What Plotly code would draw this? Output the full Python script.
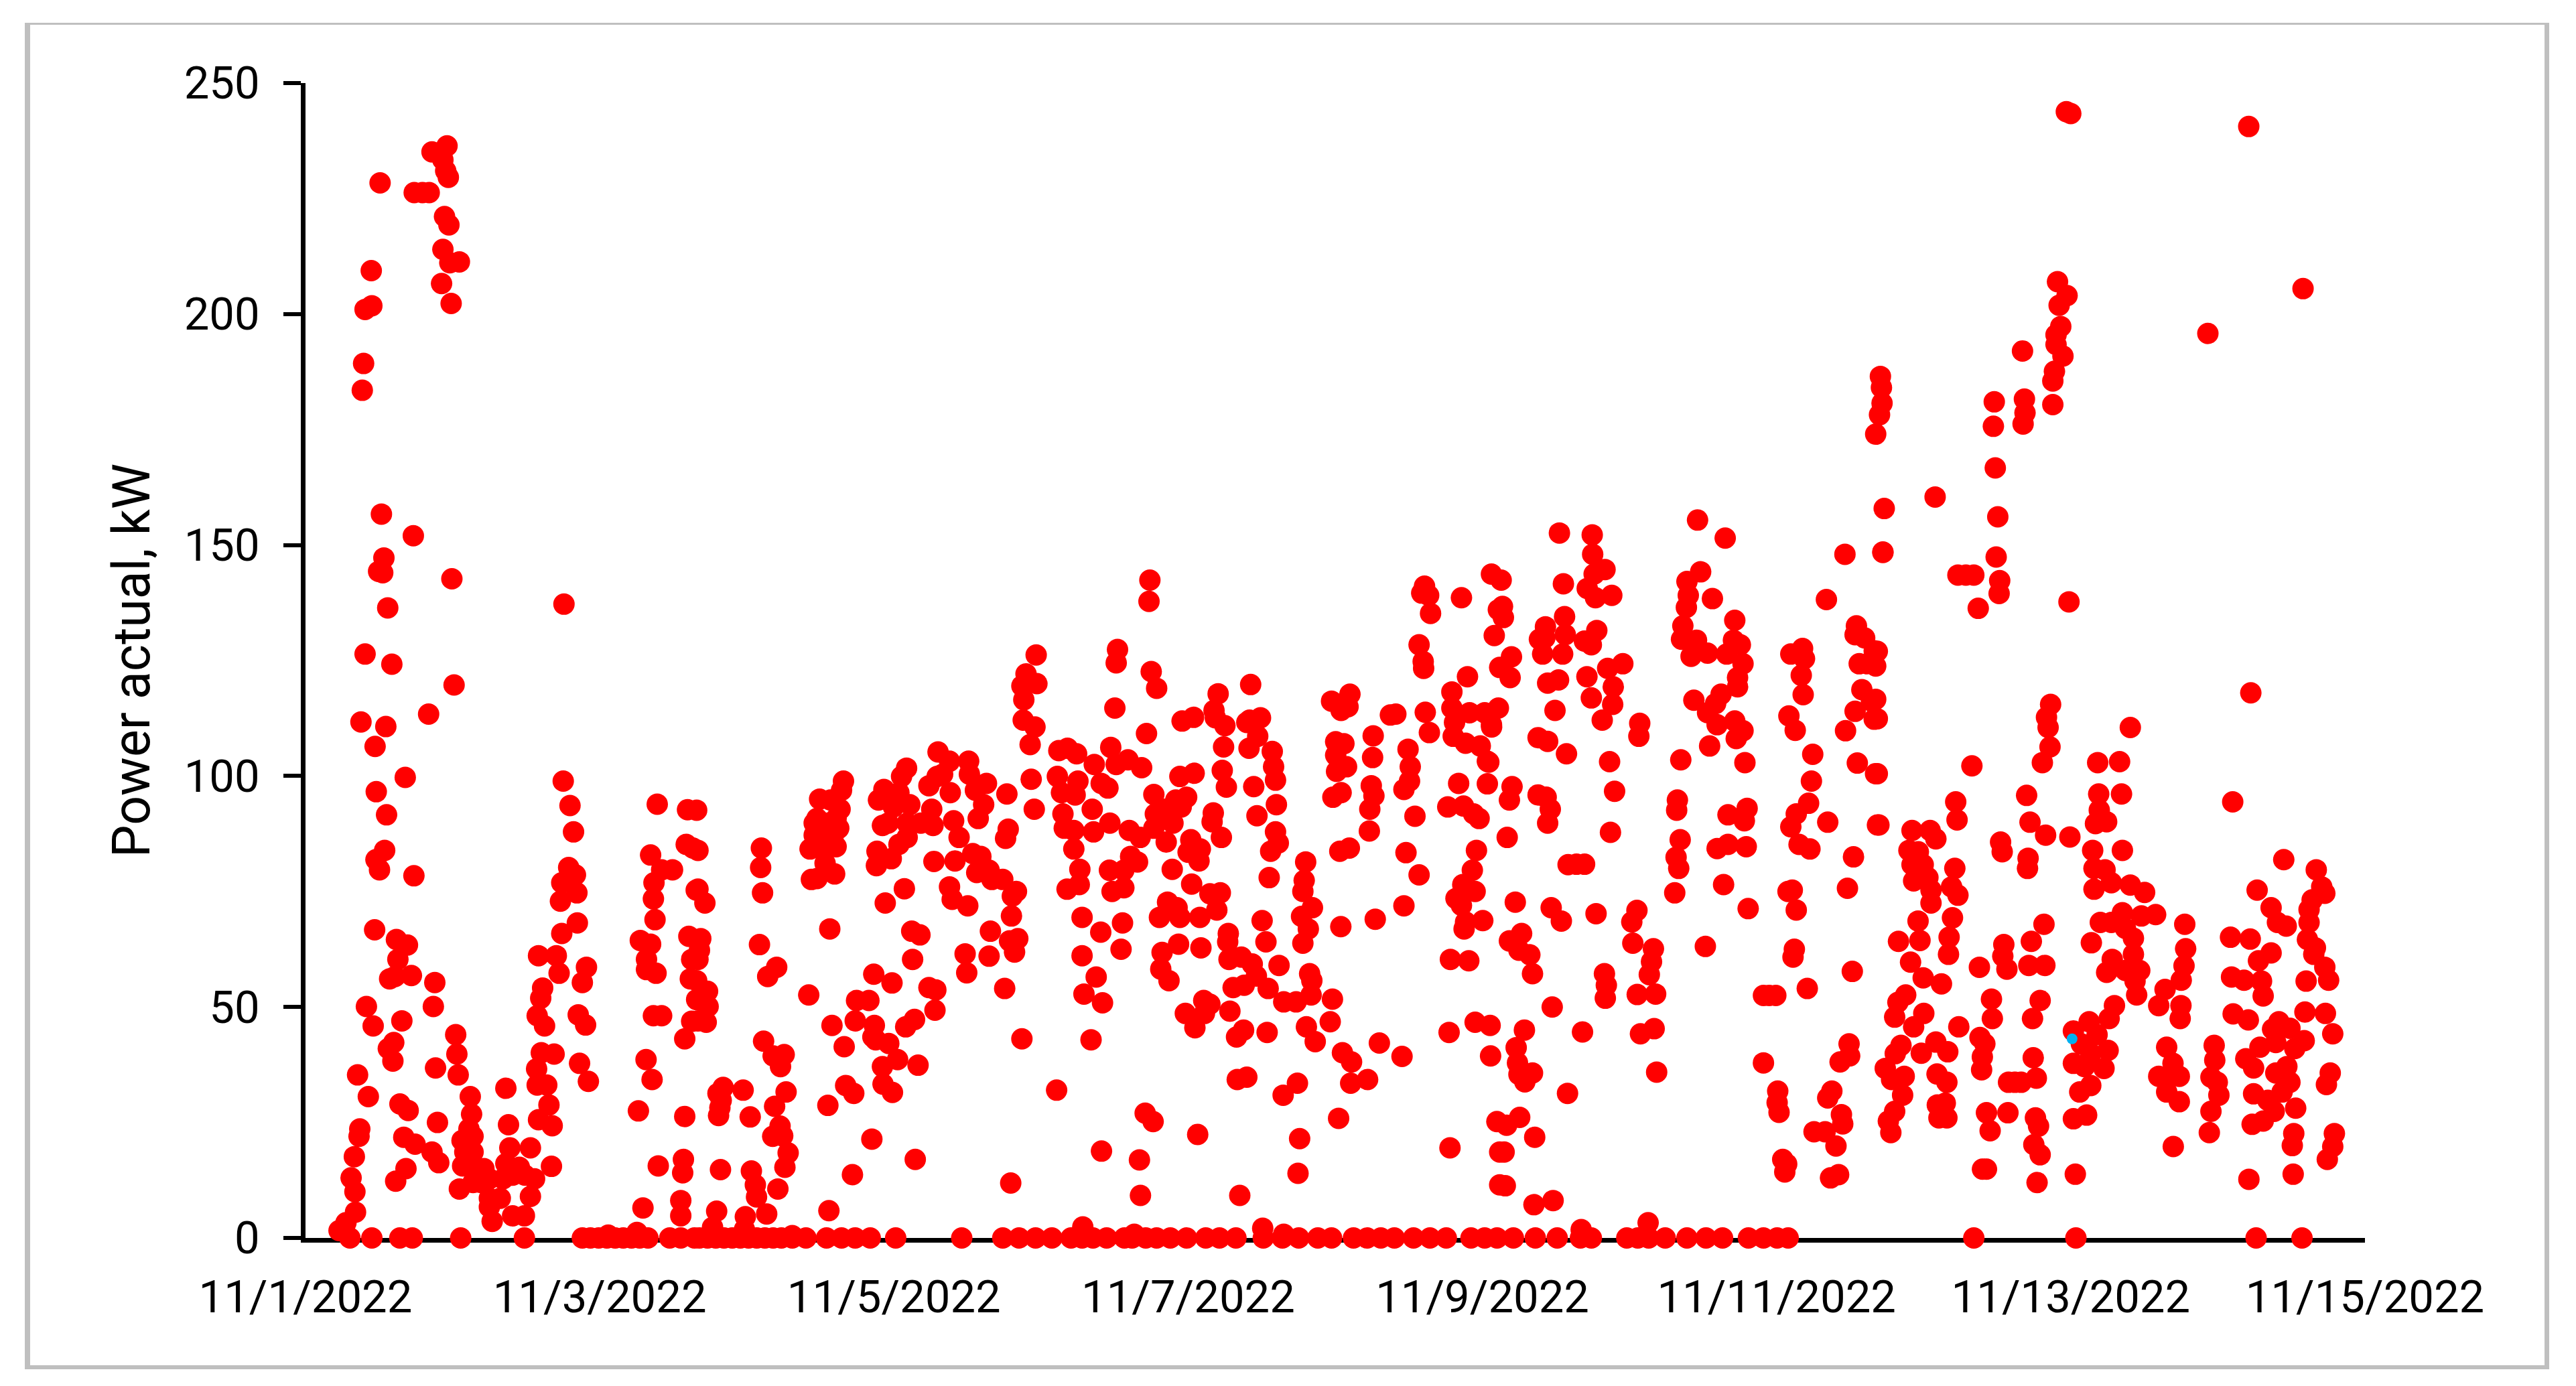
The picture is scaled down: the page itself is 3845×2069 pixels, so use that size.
from datetime import datetime, timedelta
import plotly.graph_objects as go

RED = "#ff0000"
BLUE = "#00b0f0"
FRAME = "#bfbfbf"
START = datetime(2022, 11, 1)

zero_days = [0.302,0.451,0.641,0.726,1.055,1.488,1.882,1.937,1.993,2.049,2.105,2.160,2.216,2.272,2.328,2.476,2.551,2.644,
 2.678,2.733,2.789,2.845,2.901,2.956,3.012,3.068,3.123,3.179,3.235,3.309,3.402,3.542,3.644,3.737,3.839,4.012,4.461,4.740,4.851,4.963,5.074,5.204,5.279,5.353,5.446,5.567,
 5.619,5.712,5.786,5.879,5.990,6.120,6.213,6.325,6.511,6.641,6.752,6.882,6.975,7.124,7.217,7.310,7.402,7.532,7.644,7.755,7.923,8.016,
 8.100,8.211,8.360,8.509,8.667,8.741,8.982,9.057,9.131,9.243,9.391,9.521,9.633,9.809,9.911,10.004,10.079,11.341,12.035,13.260,13.572]

near_zero = [(2.058,0.6),(2.253,1.2),(3.309,0.5),(5.634,0.8),(5.284,2.4),(6.507,2.1),(6.65,0.8),(8.672,1.8),(9.127,3.3),(2.767,2.3),(2.984,1.8)]

day0 = [(0.507,228.4),(0.447,209.4),(0.405,201),(0.451,201.8),(0.395,189.3),(0.386,183.5),(0.516,156.7),(0.533,147.2),(0.497,144.3),(0.525,144),(0.559,136.4),(0.405,126.4),(0.587,124.2),(0.377,111.7),(0.546,110.7),(0.473,106.4),(0.481,96.6),(0.551,91.6),(0.538,83.9),(0.479,81.9),(0.503,79.7),(0.470,66.7),(0.618,64.6),(0.693,63.4),(0.628,60.3),(0.572,56.1),(0.720,56.8),(0.609,56.6),(0.414,50.1),(0.460,45.9),(0.655,47),(0.600,42.3),(0.563,41),(0.594,38.3),(0.354,35.3),(0.427,30.6),(0.642,29),(0.698,27.6),(0.369,23.6),(0.364,22),(0.332,17.6),(0.310,13),(0.336,10),(0.340,5.6),(0.275,3.3),(0.228,1.6),
 (0.733,152),(0.995,142.7),(1.010,119.7),(0.837,113.4),(0.678,99.7),(0.737,78.4),(0.962,236.4),(0.860,235.1),(0.934,233.4),(0.971,229.6),(0.953,231),(0.739,226.3),(0.795,226.3),(0.841,226.3),(0.945,221.1),(0.975,219.3),(0.934,214),(1.046,211.3),(0.981,211.1),(0.925,206.6),(0.990,202.3),(0.879,55.3),(0.869,50.1),(1.021,44),(1.029,39.8),(0.884,36.8),(1.038,35.3),(0.897,25),(0.860,18.6),(0.906,16.3),(0.668,21.8),(0.745,20.3),(0.683,15),(0.613,12.3)]

day1 = [(1.120,30.6),(1.129,26.8),(1.111,23.6),(1.064,21.1),(1.139,22),(1.083,18.6),(1.139,18.6),(1.068,15.6),(1.139,15.3),(1.213,15),(1.046,10.6),(1.139,12),(1.194,12),(1.250,12.8),(1.250,8.6),(1.250,6.7),(1.269,3.6),(1.324,8.6),(1.343,12.8),(1.362,16.1),(1.389,19.5),(1.380,24.5),(1.362,32.4),(1.408,13.6),(1.454,15.3),(1.529,19.5),(1.492,13.6),(1.557,12.8),(1.529,9),(1.408,4.8),(1.488,4.8),(1.672,15.5),(1.677,24.3),(1.655,28.8),(1.584,25.6),(1.640,33.1),(1.575,33.1),(1.571,36.6),(1.690,39.8),(1.603,40.1),(1.625,45.9),(1.575,48.1),(1.599,51.9),(1.612,54.1),(1.584,61.1),(1.705,61.1),(1.724,57.3),(1.742,65.9),(1.848,68.2),(1.733,72.9),(1.742,76.9),(1.845,74.7),(1.789,80.2),(1.835,78.6),(1.822,87.9),(1.798,93.6),(1.752,98.9),(1.757,137.2),(1.910,58.6),(1.882,55.3),(1.854,48.3),(1.904,46.1),(1.863,37.8),(1.923,33.9)]

day2 = [(2.263,27.5),(2.294,6.5),(2.551,4.8),(2.551,8.1),(2.564,14.1),(2.569,17),(2.398,15.6),(2.578,26.3),(2.356,34.3),(2.315,38.6),(2.365,48.1),(2.421,48.1),(2.318,58.1),(2.383,57.3),(2.318,60.3),(2.276,64.4),(2.346,63.6),(2.376,68.9),(2.365,73.4),(2.369,76.9),(2.346,82.9),(2.421,79.7),(2.495,79.7),(2.391,93.9),(2.597,92.7),(2.588,85.2),(2.634,84.4),(2.656,75.3),(2.606,65.3),(2.625,60.3),(2.616,56.1),(2.578,43.1),(2.625,46.9),
 (2.659,92.6),(2.668,83.9),(2.668,75.5),(2.715,72.5),(2.687,64.8),(2.678,62.3),(2.668,60.3),(2.659,55.7),(2.733,53.4),(2.659,51.6),(2.737,50.1),(2.724,46.7),(2.668,47),(2.839,32.6),(2.804,31.3),(2.975,32),(2.826,29.8),(2.817,28.2),(2.808,26.5),(2.821,14.8),(2.795,5.8),(2.990,4.6)]

day3 = [(3.099,84.4),(3.094,80.2),(3.107,74.7),(3.086,63.5),(3.203,58.6),(3.142,56.6),(3.114,42.6),(3.254,39.7),(3.179,39.4),(3.229,37.1),(3.267,31.6),(3.189,28.5),(3.023,26.2),(3.226,24.2),(3.244,22.1),(3.176,22),(3.281,18.4),(3.259,15.3),(3.031,14.5),(3.058,11.5),(3.211,10.6),(3.066,8.9),(3.135,5.2),
 (3.421,52.6),(3.564,66.9),(3.558,5.9),(3.657,98.9),(3.644,96.9),(3.495,95),(3.569,94.8),(3.634,92.8),(3.477,90.8),(3.607,90.8),(3.458,89.8),(3.532,89.8),(3.625,88.7),(3.458,87.2),(3.588,87.2),(3.430,84.2),(3.514,84.2),(3.607,84.7),(3.532,81.1),(3.597,78.8),(3.439,77.6),(3.477,77.8),
 (3.932,97.1),(3.895,94.8),(3.922,89.3),(3.960,89.8),(3.885,83.7),(3.982,82.1),(3.881,80.6),(3.941,72.5),(3.997,93.3),(3.863,57.1),(3.987,55.2),(3.746,51.4),(3.830,51.4),(3.737,47),(3.579,46),(3.867,46),(3.662,41.4),(3.857,43.5),(3.965,42.1),(3.876,42.9),(3.922,37.1),(3.672,33),(3.727,31.3),(3.926,33.3),(3.990,31.5),(3.551,28.7),(3.850,21.4),(3.718,13.7)]

day4 = [(4.086,101.7),(4.052,99.9),(4.034,96.4),(4.108,93.8),(4.090,89.8),(4.090,86.7),(4.034,85.2),(4.071,75.6),(4.300,105.2),(4.378,103.2),(4.508,103.2),(4.331,100.4),(4.513,100.4),(4.294,99.9),(4.238,97.9),(4.383,96.4),(4.629,98.4),(4.554,96.9),(4.768,96.1),(4.257,92.8),(4.610,93.8),(4.573,90.8),(4.406,90.3),(4.266,89.3),(4.183,89.8),(4.777,88.5),(4.759,86.5),(4.443,86.7),(4.272,81.5),(4.415,81.6),(4.536,83.2),(4.591,82.6),(4.563,79.1),(4.647,79.6),(4.666,77.6),(4.740,77.6),(4.378,76),(4.833,75),(4.805,74),(4.396,73.3),(4.502,71.9),(4.799,69.7),(4.656,66.4),(4.842,64.8),(4.786,64.3),(4.820,61.9),(4.484,61.5),(4.647,61),(4.495,57.4),(4.753,54),(4.870,43.1),(4.121,66.4),(4.177,65.6),(4.127,60.3),(4.238,54.2),(4.285,53.7),(4.279,49.3),(4.140,47.3),(4.080,45.7),(4.025,38.6),(4.164,37.4),(4.145,17),(4.794,11.9),
 (4.967,126.2),(4.898,122.1),(4.972,120),(4.870,119.5),(4.883,116.5),(4.879,112.1),(4.959,110.6),(4.926,106.8),(4.933,99.3),(4.954,92.8)]

day5 = [(5.180,106),(5.121,105.5),(5.242,104.8),(5.474,106.2),(5.511,102.5),(5.362,102.5),(5.111,99.9),(5.251,98.9),(5.409,98.4),(5.455,97.4),(5.139,96.4),(5.232,95.9),(5.348,92.8),(5.149,91.8),(5.468,89.8),(5.158,88.7),(5.223,88.2),(5.357,87.9),(5.223,84.2),(5.264,79.8),(5.465,79.6),(5.260,76.5),(5.177,75.5),(5.483,75),(5.279,69.4),(5.406,66.2),(5.279,61.1),(5.375,56.5),(5.292,52.8),(5.418,50.9),(5.340,42.9),(5.106,32),(5.411,18.8),(5.520,127.4),(5.511,124.5),(5.502,114.7),
 (5.740,142.4),(5.734,137.8),(5.591,103.5),(5.684,101.8),(5.749,122.6),(5.786,119),(5.717,109.2),(5.554,68.2),(5.544,62.5),(5.600,88.2),(5.767,96),(5.944,99.9),(5.959,111.9),(5.842,92.8),(5.916,94.8),(5.953,93.3),(5.777,91.8),(5.897,89.8),(5.767,88.7),(5.674,86.7),(5.851,85.7),(5.656,81.4),(5.609,82.6),(5.563,79.6),(5.892,79.8),(5.563,75.8),(5.860,72.7),(5.925,71.5),(5.805,69.4),(5.944,69.4),(5.935,63.6),(5.823,61.8),(5.814,58.2),(5.870,55.7),(5.981,48.6),(5.708,27),(5.762,25.2),(5.669,16.9),(5.676,9.2)]

day6 = [(6.041,100.6),(6.037,112.7),(6.204,117.8),(6.176,114.2),(6.185,112.6),(6.250,110.9),(6.241,106.3),(6.232,101.2),(6.260,97.6),(6.425,119.8),(6.492,112.6),(6.418,112.1),(6.399,111.6),(6.473,108.6),(6.414,106),(6.572,105.3),(6.581,102),(6.594,99.1),(6.446,97.7),(6.600,93.8),(6.468,91.4),(6.594,87.9),(6.613,85.5),(6.561,83.7),(6.551,78),(5.990,95.4),(6.171,92),(6.163,90.1),(6.226,86.7),(6.018,86.2),(6.083,84.2),(6.000,83.5),(6.074,81.6),(6.024,76.6),(6.148,74.5),(6.219,74.7),(6.195,71),(6.080,69.4),(6.087,62.8),(6.503,68.7),(6.529,64.1),(6.273,65.9),(6.269,64.1),(6.278,60.3),(6.362,60.8),(6.436,59.3),(6.618,59),(6.464,56.7),(6.381,54.7),(6.306,54.2),(6.544,54),(6.650,51.1),(6.734,51.1),(6.836,52.6),(6.826,57.2),(6.841,55.7),(6.981,51.7),(6.966,46.8),(6.106,51.4),(6.148,50.6),(6.111,48.6),(6.046,45.5),(6.284,49.1),(6.377,45),(6.329,43.5),(6.537,44.5),(6.804,45.7),(6.864,42.5),(6.743,33.5),(6.646,30.9),(6.399,34.8),(6.334,34.3),(6.065,22.4),(6.351,9.2),(6.758,21.5),(6.747,14),
 (6.975,116.2),(6.799,81.4),(6.789,77.4),(6.780,75),(6.845,71.5),(6.771,69.6),(6.817,66.9),(6.780,63.8),(6.984,95.4)]

day7 = [(7.049,40.1),(7.111,38.1),(7.105,33.5),(7.220,34.3),(7.300,42.2),(7.454,39.3),(7.023,25.9),(7.780,19.5),(7.774,44.5),(7.951,46.7),(7.100,117.7),(7.040,114.2),(7.087,115),(7.003,107.4),(7.059,107),(7.003,104.5),(7.077,102),(7.009,101),(7.040,96.4),(7.258,108.7),(7.254,104),(7.245,97.9),(7.263,95.7),(7.235,92.8),(7.232,88.1),(7.495,105.8),(7.510,102),(7.505,98.9),(7.467,97.1),(7.542,91.3),(7.481,83.4),(7.570,78.6),(7.467,71.9),(7.272,69),(7.038,67.4),(7.031,83.7),(7.096,84.4),(7.375,113.2),(7.412,113.4),(7.612,113.8),(7.640,109.4),(7.607,141.1),(7.588,139.6),(7.635,139.1),(7.648,135.2),(7.858,138.6),(7.570,128.4),(7.598,124.8),(7.601,123.3),(7.899,121.5),(7.793,118.2),(7.793,114.7),(7.913,113.7),(7.811,111.6),(7.802,108.6),(7.886,107.1),(7.986,106.5),(7.839,98.4),(7.765,93.3),(7.872,93.5),(7.941,91.8),(7.978,90.8),(7.960,83.9),(7.932,79.6),(7.867,76.5),(7.951,75),(7.821,73.5),(7.858,72),(7.886,68.4),(7.876,66.9),(7.783,60.3),(7.908,60)]

day8 = [(8.053,46),(8.056,39.4),(8.099,25.2),(8.118,18.6),(8.118,11.5),(8.016,113.7),(8.062,111.1),(8.034,103.2),(8.034,98.3),(8.003,68.7),(8.062,143.7),(8.109,136),(8.081,130.4),(8.118,123.5),(8.128,142.4),(8.137,136.7),(8.143,134.3),(8.198,125.8),(8.189,121.3),(8.109,114.7),(8.063,110.6),(8.044,103),(8.202,97.7),(8.184,94.8),(8.169,86.7),(8.224,72.7),(8.267,65.9),(8.184,64.3),(8.249,62.3),(8.323,61.3),(8.341,57.2),(8.286,45),(8.230,41.2),(8.239,37.9),(8.341,35.7),(8.249,35.4),(8.289,33.8),(8.579,31.3),(8.165,24.4),(8.254,26.1),(8.356,21.8),(8.148,18.6),(8.156,11.3),(8.351,7.2),(8.481,8.1),
 (8.524,152.6),(8.747,152.2),(8.750,148),(8.834,144.7),(8.760,143.7),(8.551,141.6),(8.713,140.6),(8.769,138.6),(8.880,139.1),(8.559,134.5),(8.429,132.3),(8.778,131.5),(8.564,130.6),(8.388,129.6),(8.425,129.9),(8.694,129.2),(8.741,128.4),(8.410,126.4),(8.546,126.4),(8.955,124.3),(8.852,123.3),(8.518,120.8),(8.444,120.1),(8.711,121.5),(8.890,119.3),(8.741,116.9),(8.886,115.5),(8.494,114.2),(8.815,112.1),(8.379,108.3),(8.444,107.5),(8.572,104.8),(8.865,103.1),(8.899,96.7),(8.379,95.9),(8.434,95.4),(8.462,92.8),(8.444,89.8),(8.871,87.8),(8.583,80.8),(8.695,80.9),(8.640,80.9),(8.468,71.5),(8.537,68.6),(8.773,70.2),(8.830,57.2),(8.843,54.7),(8.836,51.9),(8.475,50),(8.681,44.6)]

day9 = [(9.070,111.4),(9.064,108.6),(9.349,103.5),(9.051,70.9),(9.016,68.4),(9.023,63.8),(9.163,62.6),(9.150,59.8),(9.135,57),(9.053,52.7),(9.178,52.8),(9.075,44.2),(9.168,45.3),(9.185,35.9),(9.463,155.4),(9.651,151.5),(9.484,144.2),(9.391,142.1),(9.400,139.1),(9.387,136.5),(9.564,138.4),(9.363,132.5),(9.716,133.7),(9.354,129.6),(9.456,129.4),(9.419,125.9),(9.531,126.6),(9.707,129.4),(9.754,128.4),(9.661,126.4),(9.772,124.3),(9.735,121.3),(9.735,119.3),(9.623,117.7),(9.438,116.4),(9.586,115.7),(9.531,113.7),(9.596,111.1),(9.716,111.9),(9.772,109.8),(9.726,108.1),(9.545,106.5),(9.785,102.9),(9.326,94.8),(9.321,92.6),(9.345,86.2),(9.317,82.4),(9.335,80),(9.308,74.7),(9.800,93),(9.670,91.6),(9.781,90.3),(9.596,84.3),(9.670,85.2),(9.794,84.7),(9.640,76.5),(9.807,71.3),(9.516,63.1),(9.911,52.5),(9.995,52.5),(9.950,52.5),(9.911,37.9)]

day10 = [(10.097,126.4),(10.177,127.6),(10.190,125.4),(10.168,121.8),(10.181,117.6),(10.084,113),(10.127,109.9),(10.246,104.7),(10.237,98.9),(10.218,94.1),(10.134,91.8),(10.097,89),(10.348,90),(10.686,89.4),(10.153,85.2),(10.227,84.2),(10.523,82.5),(10.482,75.7),(10.107,75.3),(10.134,71),(10.121,62.5),(10.112,60.8),(10.209,54),(10.515,57.7),(10.008,31.8),(10.004,29.3),(10.017,27.2),(10.493,42),(10.432,38.1),(10.497,39.4),(10.376,31.8),(10.348,30.3),(10.441,26.7),(10.450,24.7),(10.255,23),(10.330,23),(10.404,19.9),(10.042,17),(10.069,16),(10.056,14.3),(10.367,13),(10.422,13.7),(10.543,132.5),(10.534,130.6),(10.599,129.9),(10.664,127.1),(10.562,124.3),(10.618,124.3),(10.580,118.7),(10.645,116.2),(10.534,114),(10.664,112.3),(10.469,109.8),(10.549,102.8),(10.673,100.5),(10.465,148),(10.723,148.4),(10.339,138.2),
 (10.706,186.5),(10.713,184.1),(10.717,180.7),(10.700,178.2),(10.674,174),(10.732,157.9),(10.723,148.5),(10.685,127),(10.674,123.8),(10.674,116.6),(10.685,112.4),(10.685,100.5),(10.696,89.4),(10.900,83.9),(10.964,83.6),(10.921,80.8),(10.997,80.8),(10.954,78.7),(10.932,77.3),(10.962,68.6),(10.829,64.2),(10.975,64.4),(10.911,59.7),(10.997,56.3),(10.878,52.6),(10.825,51),(10.803,47.8),(10.932,45.7),(10.846,41.7),(10.807,39.9),(10.984,40),(10.739,36.7),(10.868,35),(10.782,34.3),(10.857,30.9),(10.803,27.4),(10.760,25.3),(10.777,22.8),(10.921,88.2),(10.078,75)]

day11 = [(11.910,207),(11.975,204),(11.921,201.9),(11.932,197.3),(11.900,195.5),(11.900,193.4),(11.947,190.9),(11.889,187.6),(11.878,185.5),(11.878,180.4),(11.672,192),(11.480,181),(11.474,175.7),(11.685,181.6),(11.689,178.6),(11.676,176.2),(11.487,166.7),(11.504,156.1),(11.493,147.4),(11.517,142.3),(11.513,139.5),(11.233,143.5),(11.287,143.5),(11.341,143.5),(11.371,136.3),(11.988,137.7),(11.078,160.4),(11.970,243.8),(12.000,243.4),
 (11.863,115.5),(11.835,112.7),(11.846,110.5),(11.859,106.3),(11.807,102.9),(11.328,102.2),(11.700,95.8),(11.218,94.4),(11.227,90.5),(11.723,90),(11.829,87.2),(11.994,86.8),(11.044,88.2),(11.083,86.4),(11.523,85.7),(11.534,83.6),(11.710,82.2),(11.706,80),(11.212,80),(11.029,78),(11.190,76),(11.050,75.3),(11.233,74.2),(11.050,72.5),(11.196,69.3),(11.173,65.1),(11.545,63.5),(11.732,64.2),(11.818,67.9),(11.169,61.4),(11.538,61),(11.379,58.6),(11.566,58.2),(11.715,59),(11.824,59),(11.121,55),(11.461,51.7),(11.792,51.4),(11.001,48.6),(11.467,47.5),(11.740,47.5),(11.239,45.7),(11.383,43.4),(11.083,42.4),(11.416,42),(11.164,40.3),(11.745,39),(11.399,39.2),(11.394,36.4),(11.091,35.5),(11.158,33.7),(11.577,33.7),(11.663,33.7),(11.766,34.6),(11.620,33.7),(11.093,28.8),(11.147,29.2),(11.427,27.1),(11.573,27.1),(11.760,26),(11.104,26),(11.158,26),(11.781,24.2),(11.452,23.2),(11.749,20.2),(11.792,18),(11.427,14.9),(11.400,14.9),(11.771,12)]

day12 = [(12.405,110.5),(12.183,102.9),(12.332,103.1),(12.190,96.1),(12.345,96.1),(12.194,92.6),(12.168,89.7),(12.244,90.1),(12.149,83.9),(12.351,83.9),(12.158,80),(12.233,79.7),(12.276,76.9),(12.158,75.5),(12.405,76.4),(12.502,74.8),(12.351,70.4),(12.577,70),(12.480,69.7),(12.201,68.3),(12.276,68.3),(12.372,67),(12.775,67.9),(12.140,63.9),(12.426,64.9),(12.781,62.6),(12.426,61.4),(12.282,60.3),(12.770,58.9),(12.469,57.9),(12.372,57.9),(12.244,57.5),(12.751,55.8),(12.437,55.6),(12.641,53.8),(12.448,52.6),(12.297,50.3),(12.598,50.3),(12.749,50.3),(12.125,46.8),(12.261,47.5),(12.744,47.5),(12.018,44.8),(12.179,44),(12.072,42),(12.652,41.3),(12.254,40.6),(12.136,39.9),(12.018,37.8),(12.695,37.8),(12.093,37.1),(12.226,36.7),(12.598,35),(12.652,34.4),(12.738,35),(12.136,33),(12.061,31.6),(12.652,31.6),(12.738,29.5),(12.018,25.8),(12.108,26.6),(12.031,13.8),(12.697,19.8),
 (12.975,41.7),(12.979,38.5),(12.953,34.8),(12.996,33.7),(12.953,27.4),(12.942,22.8),(12.932,195.8)]

day13 = [(13.579,205.5),(13.210,240.6),(13.224,118),(13.086,65.1),(13.220,64.7),(13.362,71.5),(13.267,75.3),(13.101,94.4),(13.448,81.9),(13.669,79.7),(13.706,76),(13.641,73.2),(13.727,74.6),(13.620,71.1),(13.620,68.3),(13.609,64.6),(13.663,62.8),(13.652,61.4),(13.405,68.3),(13.465,67.5),(13.362,61.7),(13.276,60),(13.727,58.6),(13.093,56.5),(13.178,55.8),(13.297,55.6),(13.600,55.6),(13.753,55.8),(13.308,52.4),(13.104,48.5),(13.207,47.2),(13.592,48.9),(13.731,48.6),(13.781,44.2),(13.415,46.8),(13.372,45.2),(13.490,45.4),(13.587,42.7),(13.523,41),(13.394,42.3),(13.286,41.3),(13.190,38.8),(13.243,36.8),(13.469,37.1),(13.394,35.7),(13.490,33.7),(13.764,35.7),(13.738,33.2),(13.243,31.2),(13.437,31.6),(13.340,29.8),(13.383,27.4),(13.529,28.1),(13.308,25.3),(13.233,24.6),(13.516,22.6),(13.792,22.6),(13.506,20),(13.781,19.8),(13.744,17),(13.512,13.8),(13.211,12.7),(13.007,30.9)]

highlight_day = [12.009]
highlight_kw = [43.1]

red_points = [(d, 0) for d in zero_days] + near_zero
for group in (day0, day1, day2, day3, day4, day5, day6, day7, day8, day9, day10, day11, day12, day13):
    red_points = red_points + group

def to_date(d):
    return START + timedelta(days=d)

fig = go.Figure()
fig.add_trace(go.Scatter(x=[to_date(p[0]) for p in red_points], y=[p[1] for p in red_points],
    mode="markers", marker=dict(color=RED, size=32, line=dict(width=0)), cliponaxis=False, showlegend=False))
fig.add_trace(go.Scatter(x=[to_date(d) for d in highlight_day], y=highlight_kw,
    mode="markers", marker=dict(color=BLUE, size=16, line=dict(width=0)), cliponaxis=False, showlegend=False))

W, H = 3845, 2069
L, R, T, B = 456, 315, 124, 221
PW, PH = W - L - R, H - T - B

def frame_bar(x0, x1, y0, y1):
    return dict(type="rect", xref="paper", yref="paper",
                x0=(x0 - L) / PW, x1=(x1 - L) / PW, y0=(H - B - y1) / PH, y1=(H - B - y0) / PH,
                line=dict(width=0), fillcolor=FRAME, layer="below")

FONT = "Roboto"
fig.update_layout(
    width=W, height=H, autosize=False,
    paper_bgcolor="white", plot_bgcolor="white",
    margin=dict(l=L, r=R, t=T, b=B),
    font=dict(family=FONT, size=67, color="black"),
    showlegend=False,
    shapes=[frame_bar(37, 45, 34, 2044), frame_bar(3798, 3805, 34, 2044),
            frame_bar(37, 3805, 34, 37), frame_bar(37, 3805, 2038, 2044)],
)
fig.update_xaxes(type="date", range=[START, START + timedelta(days=14)],
    dtick=2 * 86400000, tick0=START, tickformat="%-m/%-d/%Y", ticks="", showgrid=False, zeroline=False,
    showline=True, linecolor="black", linewidth=7, layer="below traces", ticklabelstandoff=24)
fig.update_yaxes(range=[0, 250], dtick=50, ticks="outside", ticklen=26, tickwidth=6, tickcolor="black",
    showgrid=False, zeroline=False, showline=True, linecolor="black", linewidth=7, layer="below traces",
    ticklabelstandoff=22,
    title=dict(text="Power actual, kW", standoff=28, font=dict(family=FONT, size=77, color="black")))

fig.write_html("out.html", config=dict(displayModeBar=False),
               post_script="document.body.style.margin='0';document.documentElement.style.overflow='hidden';")
